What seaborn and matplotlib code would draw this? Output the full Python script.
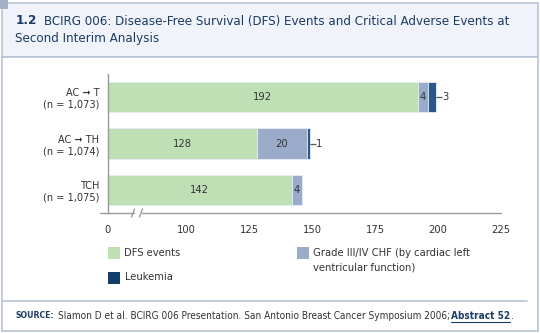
import numpy as np
import pandas as pd
import matplotlib
matplotlib.use("Agg")
import matplotlib.pyplot as plt
from matplotlib.transforms import Affine2D
from matplotlib.patches import Rectangle
from matplotlib.lines import Line2D
import seaborn as sns

# ---------------- data ----------------
categories = ["AC \u279e T\n(n = 1,073)", "AC \u279e TH\n(n = 1,074)", "TCH\n(n = 1,075)"]
dfs_events = [192, 128, 142]
chf_events = [4, 20, 4]
leukemia = [3, 1, 0]
xticks = [0, 100, 125, 150, 175, 200, 225]
legend_labels = ["DFS events", "Grade III/IV CHF (by cardiac left\nventricular function)", "Leukemia"]
title_num = "1.2"
title_text = "BCIRG 006: Disease-Free Survival (DFS) Events and Critical Adverse Events at"
title_line2 = "Second Interim Analysis"
source_text = "Slamon D et al. BCIRG 006 Presentation. San Antonio Breast Cancer Symposium 2006;"
source_link = "Abstract 52"

# ---------------- style ----------------
sns.set_style("white")
plt.rcParams["font.family"] = ["DejaVu Sans"]
plt.rcParams["font.stretch"] = "condensed"

C_DFS = "#bfe0b4"
C_CHF = "#9bacca"
C_LEU = "#2c5886"
C_LEU_LEG = "#123c69"
NAVY = "#1d3b63"
TXT = "#333333"
GRID = "#9a9a9a"
BORDER = "#b7c3d5"

W, H = 540, 333
fig = plt.figure(figsize=(W / 100, H / 100), dpi=100)
px = Affine2D().scale(1 / W, -1 / H).translate(0, 1) + fig.transFigure

# frame / title band
fig.patches.append(Rectangle((2, 3), 536, 54, transform=px, facecolor="#f0f4fa",
                             edgecolor=BORDER, linewidth=1.2, zorder=-2))
fig.patches.append(Rectangle((2, 57), 536, 274, transform=px, facecolor="white",
                             edgecolor=BORDER, linewidth=1.2, zorder=-2))
fig.patches.append(Rectangle((0, 0), 8, 9, transform=px, facecolor="#a4b1c6",
                             edgecolor="none", zorder=-1))
fig.lines.append(Line2D([2, 527], [300.5, 300.5], transform=px, color=BORDER, lw=1.2))

# title
fig.text(16, 21, title_num, transform=px, fontsize=9.6, fontweight="bold",
         color=NAVY, va="center", ha="left")
fig.text(44, 21, title_text, transform=px, fontsize=9.5, color=NAVY, va="center", ha="left")
fig.text(15, 38.5, title_line2, transform=px, fontsize=9.5, color=NAVY, va="center", ha="left")

# ---------------- axes ----------------
x0, x1, ytop, ybot = 107.8, 501, 74, 213
ax = fig.add_axes([x0 / W, 1 - ybot / H, (x1 - x0) / W, (ybot - ytop) / H])
ax.set_facecolor("none")
ax.set_zorder(2)

BRK_U0 = 68.92
BRK_K = (100 - BRK_U0) / 100.0


def fwd(x):
    x = np.asarray(x, dtype=float)
    return np.where(x < 100, BRK_U0 + BRK_K * x, x)


def inv(u):
    u = np.asarray(u, dtype=float)
    return np.where(u < 100, (u - BRK_U0) / BRK_K, u)


dfs = np.array(dfs_events)
chf = np.array(chf_events)
leu = np.array(leukemia)
df = pd.DataFrame({
    "cat": categories,
    "dfs": dfs,
    "chf_cum": dfs + chf,
    "leu_cum": dfs + chf + leu,
})

bw = 0.65
sns.barplot(data=df, x="leu_cum", y="cat", orient="h", color=C_LEU, width=bw,
            saturation=1, edgecolor="#e8eef5", linewidth=0.6, ax=ax)
sns.barplot(data=df, x="chf_cum", y="cat", orient="h", color=C_CHF, width=bw,
            saturation=1, edgecolor="#e8eef5", linewidth=0.6, ax=ax)
sns.barplot(data=df, x="dfs", y="cat", orient="h", color=C_DFS, width=bw,
            saturation=1, edgecolor="#e8eef5", linewidth=0.6, ax=ax)

ax.set_xscale("function", functions=(fwd, inv))
ax.set_xlim(0, 225)
ax.set_ylim(2.5, -0.5)
ax.set_xticks(xticks)
ax.set_xticklabels([str(v) for v in xticks])
ax.xaxis.set_minor_locator(matplotlib.ticker.NullLocator())
ax.set_xlabel("")
ax.set_ylabel("")

for s in ["top", "right", "bottom"]:
    ax.spines[s].set_visible(False)
ax.spines["left"].set_color(GRID)
ax.spines["left"].set_linewidth(1)

ax.tick_params(axis="x", which="major", direction="out", length=4.5, width=1,
               color=GRID, labelsize=8, labelcolor=TXT, pad=4)
ax.tick_params(axis="y", which="major", length=0, labelsize=7.8, labelcolor=TXT, pad=6)
ax.set_yticks([-0.5, 0.5, 1.5, 2.5], minor=True)
ax.tick_params(axis="y", which="minor", direction="out", length=5, width=1, color=GRID)
for lab in ax.get_yticklabels():
    lab.set_horizontalalignment("right")
    lab.set_multialignment("right")

# x-axis line with break marks (drawn in pixel space)
for xs in ([100, 134], [141.5, 501]):
    fig.lines.append(Line2D(xs, [213, 213], transform=px, color=GRID, lw=1))
for xb in (133, 141):
    fig.lines.append(Line2D([xb - 1.5, xb + 1.5], [217, 209], transform=px, color=GRID, lw=1))


# value labels
def mid(a, b):
    return float(inv((fwd(a) + fwd(b)) / 2))


for i in range(len(categories)):
    d, c, l = dfs[i], chf[i], leu[i]
    ax.text(mid(0, d), i, str(d), ha="center", va="center", fontsize=8, color=TXT)
    if c >= 3:
        ax.text(mid(d, d + c), i, str(c), ha="center", va="center", fontsize=8, color=TXT)
    if l > 0:
        end = d + c + l
        ax.plot([end, end + 2.4], [i, i], color="#555555", lw=0.9, solid_capstyle="butt")
        ax.text(end + 2.6, i, str(l), ha="left", va="center", fontsize=8, color=TXT)

# legend (manual, figure pixel space)
leg = [(108, 246.5, C_DFS, legend_labels[0], 124.5, 252.5),
       (297, 246.5, C_CHF, legend_labels[1], 313, 252.5),
       (108, 271.5, C_LEU_LEG, legend_labels[2], 124.5, 277.5)]
for sx, sy, col, lab, tx, ty in leg:
    fig.patches.append(Rectangle((sx, sy), 12, 12, transform=px, facecolor=col,
                                 edgecolor="none", zorder=2))
    for k, ln in enumerate(lab.split("\n")):
        fig.text(tx, ty + 15 * k, ln, transform=px, fontsize=8, color=TXT,
                 va="center", ha="left")

# source line
r = fig.canvas.get_renderer()
ts = fig.text(16, 316, "SOURCE:", transform=px, fontsize=6.2, fontweight="bold",
              color=NAVY, va="center", ha="left")
bb = ts.get_window_extent(renderer=r)
tb = fig.text(bb.x1 + 4, 316, source_text, transform=px,
              fontsize=7.2, color=TXT, va="center", ha="left")
bb2 = tb.get_window_extent(renderer=r)
tl = fig.text(bb2.x1 + 0.5, 316, source_link, transform=px, fontsize=7.2,
              fontweight="bold", color=NAVY, va="center", ha="left")
bb3 = tl.get_window_extent(renderer=r)
fig.lines.append(Line2D([bb3.x0, bb3.x1], [322, 322], transform=px, color=NAVY, lw=0.8))
fig.text(bb3.x1 + 0.5, 316, ".", transform=px, fontsize=7.2, color=TXT, va="center", ha="left")

fig.savefig("out.png", dpi=100)
